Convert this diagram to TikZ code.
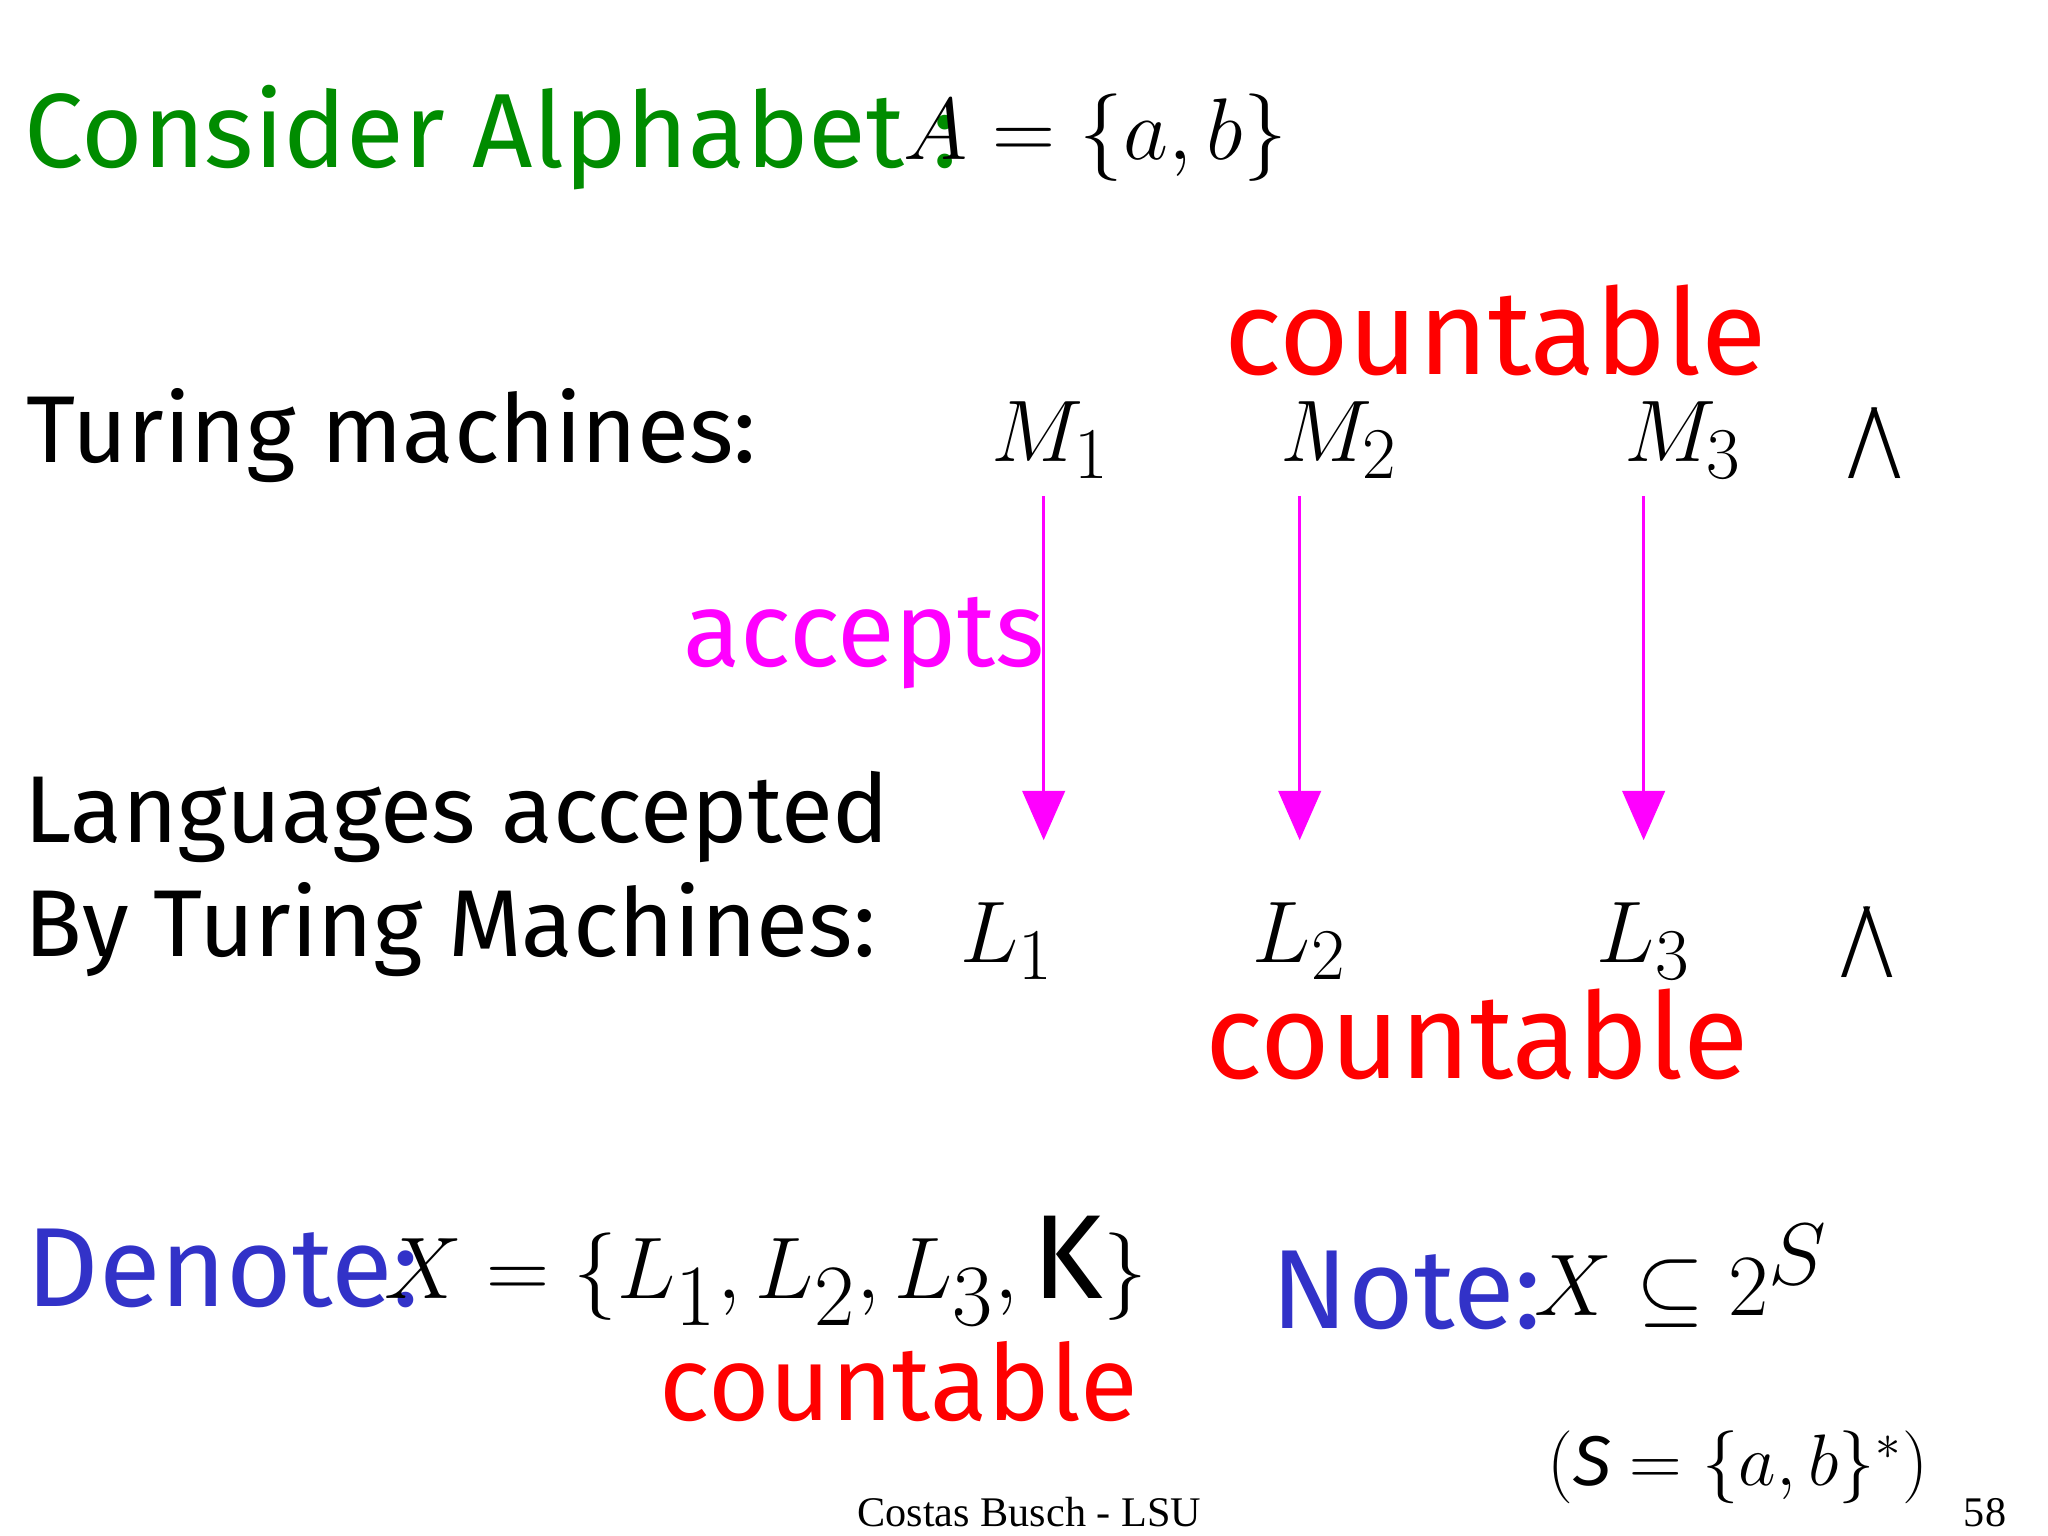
\documentclass[tikz,border=0pt]{standalone}
\usepackage{fontspec}
\usetikzlibrary{arrows.meta}
\setmainfont{Fira Sans}
\newfontfamily\tms{Liberation Serif}
\definecolor{grn}{RGB}{0,140,0}
\definecolor{mag}{RGB}{255,0,255}
\definecolor{blu}{RGB}{50,50,200}
\definecolor{rd}{RGB}{255,0,0}
\begin{document}
\begin{tikzpicture}[x=0.013128cm,y=-0.013128cm,
  big/.style={font=\fontsize{30}{34}\selectfont,inner sep=0pt,anchor=west},
  cnt/.style={font=\fontsize{34}{38}\selectfont,text=rd,inner sep=0pt,anchor=west},
  lbl/.style={font=\fontsize{27}{31}\selectfont,inner sep=0pt,anchor=west},
  mth/.style={font=\fontsize{30}{34}\selectfont,inner sep=0pt},
  arr/.style={draw=mag,line width=1pt,-{Triangle[length=14pt,width=12pt]},shorten >=0pt}]
\useasboundingbox[fill=white] (0,0) rectangle (1560,1170);
\node[big,text=grn] (t) at (18,105) {Consider Alphabet :};
\node[mth,anchor=west] (A) at (688,105) {$A=\{a,b\}$};
\node[cnt] (c1) at (932,252) {countable};
\node[lbl] (tm) at (20,332) {Turing machines:};
\node[mth] (M1) at (800,335) {$M_1$};
\node[mth] (M2) at (1020,335) {$M_2$};
\node[mth] (M3) at (1282,335) {$M_3$};
\node[mth] (d1) at (1428,338) {\tms /\kern-2pt\textbackslash};
\node[lbl,text=mag,font=\fontsize{30}{34}\selectfont] (acc) at (520,490) {accepts};
\node[lbl] (la) at (18,622) {Languages accepted};
\node[lbl] (bt) at (18,708) {By Turing Machines:};
\node[mth] (L1) at (767,717) {$L_1$};
\node[mth] (L2) at (990,717) {$L_2$};
\node[mth] (L3) at (1252,717) {$L_3$};
\node[mth] (d2) at (1422,718) {\tms /\kern-2pt\textbackslash};
\coordinate (a1s) at (795,378); \coordinate (a1e) at (795,640);
\coordinate (a2s) at (990,378); \coordinate (a2e) at (990,640);
\coordinate (a3s) at (1252,378); \coordinate (a3e) at (1252,640);
\draw[arr] (a1s) -- (a1e);
\draw[arr] (a2s) -- (a2e);
\draw[arr] (a3s) -- (a3e);
\node[cnt] (c2) at (918,788) {countable};
\node[big,text=blu,font=\fontsize{32}{36}\selectfont] (den) at (20,966) {Denote:};
\node[mth,anchor=west,font=\fontsize{34}{38}\selectfont] (X) at (292,968) {$X=\{L_1,L_2,L_3,\mathrm{K}\}$};
\node[cnt,font=\fontsize{30}{34}\selectfont] (c3) at (502,1052) {countable};
\node[big,text=blu,font=\fontsize{32}{36}\selectfont] (note) at (968,983) {Note:};
\node[mth,anchor=west,font=\fontsize{36}{40}\selectfont] (sub) at (1168,972) {$X\subseteq 2^{S}$};
\node[inner sep=0pt,anchor=west,font=\fontsize{20}{24}\selectfont] (S) at (1178,1118) {$\bigl($\textit{S} $=\{a,b\}^{*}\bigr)$};
\node[inner sep=0pt,font=\tms\fontsize{12}{14}\selectfont] (ft) at (784,1152) {Costas Busch - LSU};
\node[inner sep=0pt,font=\tms\fontsize{12}{14}\selectfont] (pg) at (1512,1152) {58};
\end{tikzpicture}
\end{document}
